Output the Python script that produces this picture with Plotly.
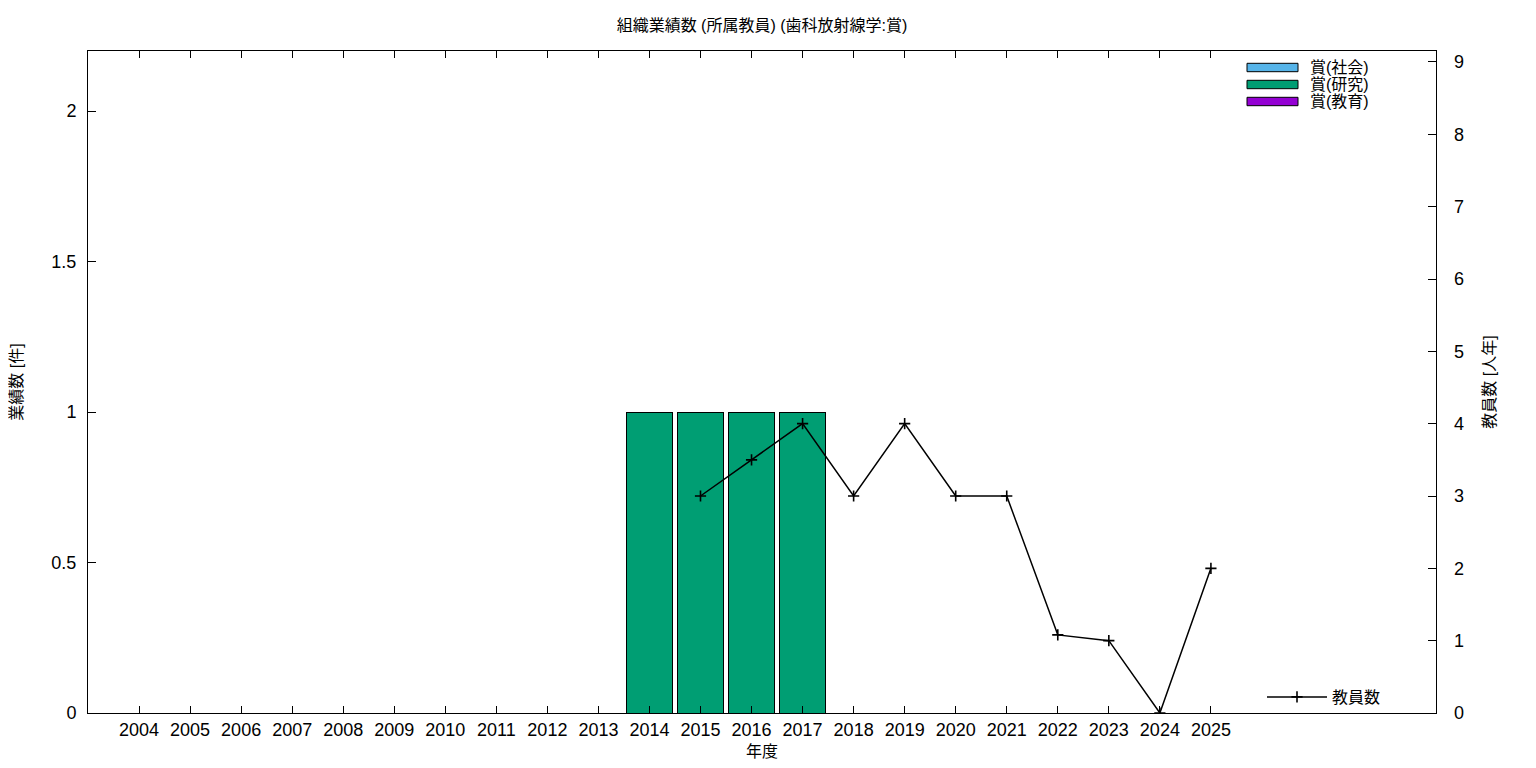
import plotly.graph_objects as go

years = list(range(2004, 2026))
award_social = [0] * 22
award_research = [0, 0, 0, 0, 0, 0, 0, 0, 0, 0, 1, 1, 1, 1, 0, 0, 0, 0, 0, 0, 0, 0]
award_education = [0] * 22
staff_years = [2015, 2016, 2017, 2018, 2019, 2020, 2021, 2022, 2023, 2024, 2025]
staff_counts = [3, 3.5, 4, 3, 4, 3, 3, 1.08, 1, 0, 2]

left_ticks = [0, 0.5, 1, 1.5, 2]
left_labels = ["0", "0.5", "1", "1.5", "2"]
right_ticks = list(range(0, 10))

bar_series = [("賞(社会)", award_social, "#56b4e9"),
              ("賞(研究)", award_research, "#009e73"),
              ("賞(教育)", award_education, "#9400d3")]

FONT = "Liberation Sans, Noto Sans CJK JP, sans-serif"

# page offset (default body margin of the html page)
OFF = 8
FW, FH = 1520, 752
# plot area in page pixels
L, R, T, B = 88, 1436, 51, 713
PW, PH = R - L, B - T


def px(x):
    return (x - L) / PW


def py(y):
    return (B - y) / PH


fig = go.Figure()
for name, vals, col in bar_series:
    fig.add_trace(go.Bar(x=years, y=vals, name=name, showlegend=False,
                         marker=dict(color=col, line=dict(color="black", width=1)), width=0.9))
fig.add_trace(go.Scatter(x=staff_years, y=staff_counts, name="教員数", yaxis="y2", mode="lines+markers",
                         line=dict(color="black", width=1.5),
                         marker=dict(symbol="cross-thin", size=8, line=dict(color="black", width=1.6)),
                         legend="legend2"))

# bar legend (wide boxes like the reference)
row_centers = [67.5, 84.5, 101.5]
for (name, vals, col), yc in zip(bar_series, row_centers):
    fig.add_shape(type="rect", xref="paper", yref="paper", x0=px(1247), x1=px(1298),
                  y0=py(yc + 4.2), y1=py(yc - 4.2), fillcolor=col, line=dict(color="black", width=1))
    fig.add_annotation(text=name, xref="paper", yref="paper", x=px(1308), y=py(yc), xanchor="left",
                       yanchor="middle", showarrow=False, font=dict(size=16, family=FONT))

fig.update_layout(
    width=FW, height=FH,
    barmode="stack",
    plot_bgcolor="white", paper_bgcolor="white",
    margin=dict(l=L - OFF, r=FW - (R - OFF), t=T - OFF, b=FH - (B - OFF)),
    font=dict(family=FONT, size=16, color="black"),
    title=dict(text="組織業績数 (所属教員) (歯科放射線学:賞)", x=((L + R) / 2 - OFF) / FW, xanchor="center",
               y=1 - (25 - OFF) / FH, yanchor="middle", font=dict(size=16, family=FONT)),
    xaxis=dict(range=[2003, 2029.41], tickvals=years, ticktext=[str(y) for y in years], automargin=False,
               ticks="inside", ticklen=7, tickcolor="black", showline=True, linecolor="black", linewidth=1,
               mirror="ticks", showgrid=False, zeroline=False,
               title=dict(text="年度", font=dict(size=16), standoff=14), tickfont=dict(size=18)),
    yaxis=dict(range=[0, 2.2], tickvals=left_ticks, ticktext=left_labels, ticks="inside", ticklen=8,
               automargin=False, ticklabelstandoff=7,
               tickcolor="black", showline=True, linecolor="black", linewidth=1, mirror=True,
               showgrid=False, zeroline=False, title=dict(text="業績数 [件]", font=dict(size=16), standoff=27),
               tickfont=dict(size=18)),
    yaxis2=dict(range=[0, 9.152], tickvals=right_ticks, overlaying="y", side="right", ticks="inside", ticklen=8,
                automargin=False, ticklabelstandoff=17,
                tickcolor="black", showline=False, showgrid=False, zeroline=False,
                title=dict(text="教員数 [人年]", font=dict(size=16), standoff=20), tickfont=dict(size=18)),
    legend2=dict(x=px(1262), y=py(697), xanchor="left", yanchor="middle", bgcolor="rgba(0,0,0,0)",
                 font=dict(size=16), itemwidth=60),
    showlegend=True,
)

fig.write_html("out.html")
